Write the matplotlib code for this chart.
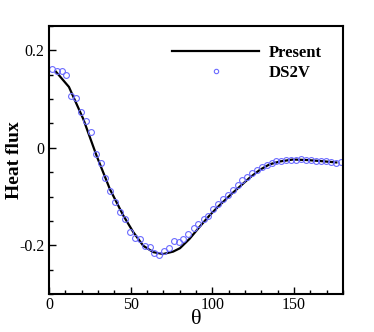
import numpy as np
import matplotlib.pyplot as plt
from matplotlib.ticker import MultipleLocator

# DS2V data (circles)
theta_ds2v = [1.6, 4.7, 7.7, 10.4, 13.5, 16.5, 19.6, 22.6, 25.5, 28.5, 31.6, 34.4,
              37.3, 40.4, 43.4, 46.5, 49.5, 52.6, 55.6, 58.7, 61.8, 64.4, 67.5, 70.5,
              73.6, 76.4, 79.5, 82.3, 85.4, 88.5, 91.5, 94.6, 97.6, 100.5, 103.5, 106.6,
              109.5, 112.5, 115.6, 118.4, 121.5, 124.5, 127.4, 130.5, 133.3, 136.4, 139.2,
              142.3, 145.3, 148.4, 151.4, 154.5, 157.6, 160.6, 163.7, 166.7, 169.8, 172.8,
              175.5, 178.9]
q_ds2v = [0.161, 0.158, 0.158, 0.149, 0.106, 0.102, 0.074, 0.055, 0.033, -0.012, -0.032,
          -0.061, -0.089, -0.112, -0.132, -0.146, -0.173, -0.186, -0.188, -0.202, -0.203,
          -0.216, -0.219, -0.211, -0.206, -0.192, -0.194, -0.188, -0.177, -0.165, -0.157,
          -0.146, -0.140, -0.126, -0.115, -0.106, -0.096, -0.087, -0.076, -0.066, -0.059,
          -0.051, -0.046, -0.039, -0.035, -0.031, -0.028, -0.027, -0.025, -0.024, -0.024,
          -0.023, -0.025, -0.026, -0.027, -0.027, -0.028, -0.029, -0.031, -0.030]

# Present solution (line)
theta_present = [4.3, 12.2, 21.0, 29.1, 37.3, 45.5, 51.6, 57.7, 63.8, 69.9, 76.0, 80.2,
                 86.0, 92.5, 98.5, 104.7, 111.0, 117.0, 123.0, 129.2, 135.0, 141.3, 149.4,
                 157.6, 165.7, 175.9]
q_present = [0.156, 0.125, 0.059, -0.016, -0.085, -0.139, -0.173, -0.201, -0.214, -0.218,
             -0.213, -0.206, -0.187, -0.161, -0.138, -0.117, -0.097, -0.079, -0.061,
             -0.045, -0.034, -0.028, -0.024, -0.025, -0.027, -0.030]

plt.rcParams['font.family'] = ['Liberation Serif', 'DejaVu Serif']

fig = plt.figure(figsize=(3.74, 3.32), dpi=100)
ax = fig.add_axes([49/374, 1 - 294/332, (343-49)/374, (294-26)/332])

ax.plot(theta_present, q_present, color='black', linewidth=1.6, label='Present')
ax.plot(theta_ds2v, q_ds2v, linestyle='none', marker='o', markersize=4.2,
        markerfacecolor='none', markeredgecolor='#6b6bff', markeredgewidth=0.8,
        label='DS2V')

ax.set_xlim(0, 180)
ax.set_ylim(-0.3, 0.25)
ax.xaxis.set_major_locator(MultipleLocator(50))
ax.xaxis.set_minor_locator(MultipleLocator(10))
ax.yaxis.set_minor_locator(MultipleLocator(0.05))
ax.set_yticks([-0.2, 0, 0.2])
ax.set_yticklabels(['-0.2', '0', '0.2'])

ax.tick_params(which='both', direction='in', labelsize=11.5, width=1)
ax.tick_params(which='major', length=5)
ax.tick_params(which='minor', length=3)
ax.tick_params(axis='x', pad=2)
for s in ax.spines.values():
    s.set_linewidth(1.5)

ax.set_xlabel('θ', fontsize=16)
ax.xaxis.set_label_coords(0.5, -0.058)
ax.set_ylabel('Heat flux', fontsize=14, fontweight='bold')
ax.yaxis.set_label_coords(-0.088, 0.5)

leg = ax.legend(loc='upper right', bbox_to_anchor=(0.98, 0.985), frameon=False,
                handlelength=5.2, handletextpad=0.6, labelspacing=0.25,
                markerscale=0.75, prop={'weight': 'bold', 'size': 12})

fig.savefig('out.png', dpi=100)
